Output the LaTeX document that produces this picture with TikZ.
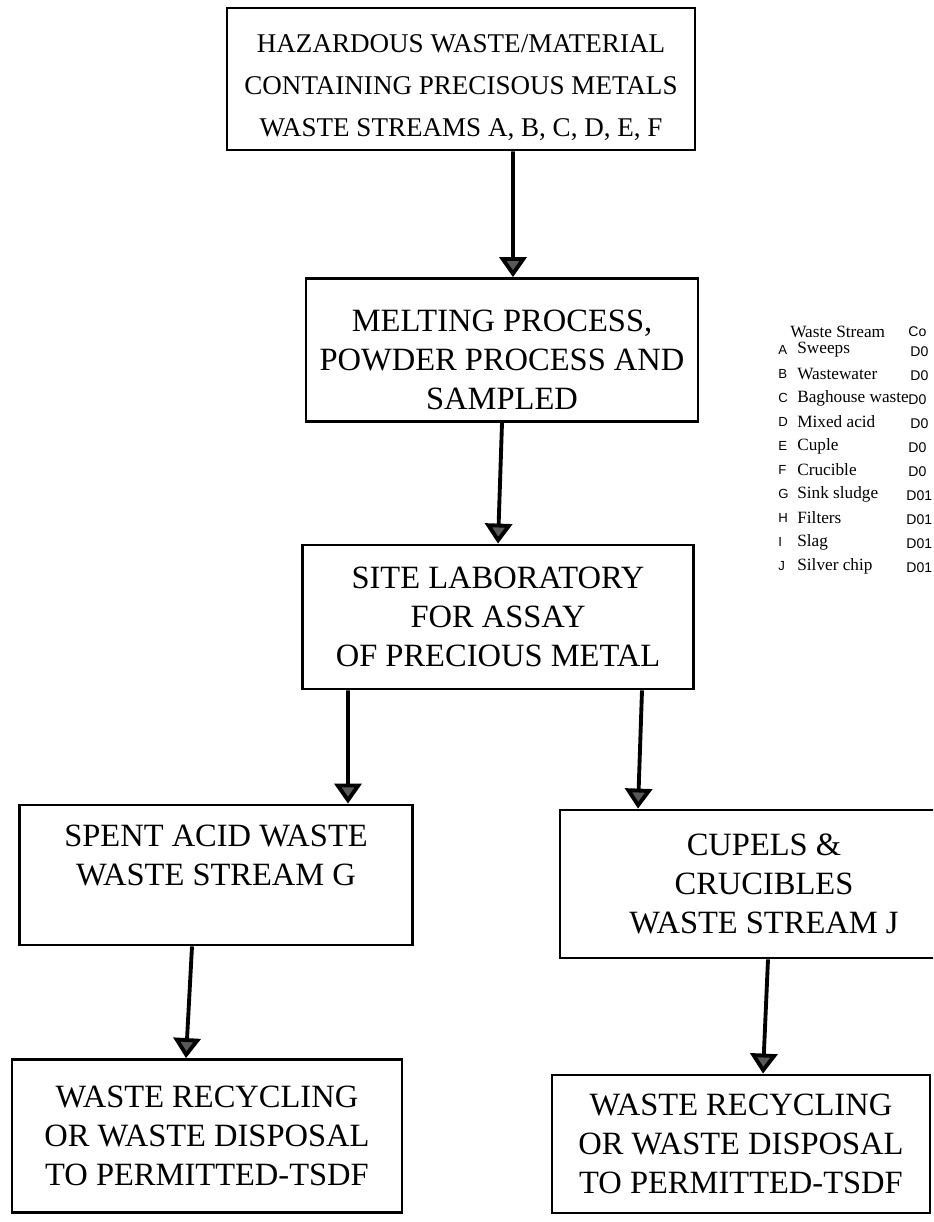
\documentclass[tikz,border=0pt]{standalone}
\usepackage{fontspec}
\setmainfont{Liberation Serif}
\setsansfont{Liberation Sans}
\usetikzlibrary{arrows.meta}
\tikzset{
  wbox/.style={draw=black, line width=1.6pt, align=center, inner sep=0pt,
               font=\fontsize{18.5}{22.2}\selectfont},
  wflow/.style={-{Triangle[width=5.4mm,length=4mm,fill=black!65]}, line width=2.2pt},
  wkey/.style={anchor=west, inner sep=0pt, font=\sffamily\fontsize{7.5}{9}\selectfont},
  wname/.style={anchor=west, inner sep=0pt, font=\fontsize{9.8}{11}\selectfont},
  wcode/.style={anchor=west, inner sep=0pt, font=\sffamily\fontsize{8}{9}\selectfont},
}

\begin{document}
\begin{tikzpicture}[x=0.2mm,y=-0.2mm]
  \useasboundingbox (0,0) rectangle (933,1222);
  \clip (0,0) rectangle (933,1222);

  % --- main flow ---
  \node[wbox, minimum width=9.36cm, minimum height=2.84cm,
        font=\fontsize{15.4}{24}\selectfont] (haz) at (461,79)
    {\mbox{}\\[-4.3pt]HAZARDOUS WASTE/MATERIAL\\CONTAINING PRECISOUS METALS\\WASTE STREAMS A, B, C, D, E, F};
  \node[wbox, minimum width=7.84cm, minimum height=2.86cm] (melt) at (502,350)
    {\mbox{}\\[1.4pt]MELTING PROCESS,\\POWDER PROCESS AND\\SAMPLED};
  \node[wbox, minimum width=7.82cm, minimum height=2.88cm] (lab) at (498,617)
    {SITE LABORATORY\\FOR ASSAY\\OF PRECIOUS METAL};

  % --- two branches ---
  \node[wbox, minimum width=7.86cm, minimum height=2.8cm] (spent) at (216,875)
    {SPENT ACID WASTE\\WASTE STREAM G\\~};
  \node[wbox, minimum width=8.16cm, minimum height=2.96cm] (cupel) at (764,884)
    {CUPELS \&\\CRUCIBLES\\WASTE STREAM J};
  \node[wbox, minimum width=7.8cm, minimum height=3.06cm] (recL) at (207,1136)
    {WASTE RECYCLING\\OR WASTE DISPOSAL\\TO PERMITTED-TSDF};
  \node[wbox, minimum width=7.56cm, minimum height=2.76cm] (recR) at (741,1144)
    {WASTE RECYCLING\\OR WASTE DISPOSAL\\TO PERMITTED-TSDF};

  \draw[wflow] ([xshift=1.04cm]haz.south) -- ([xshift=0.22cm]melt.north);
  \draw[wflow] (melt.south) -- (lab.north);
  \draw[wflow] ([xshift=-3cm]lab.south) -- ([xshift=2.64cm]spent.north);
  \draw[wflow] ([xshift=2.88cm]lab.south) -- ([xshift=-2.52cm]cupel.north);
  \draw[wflow] ([xshift=-0.48cm]spent.south) -- ([xshift=-0.42cm]recL.north);
  \draw[wflow] ([xshift=0.08cm]cupel.south) -- ([xshift=0.44cm]recR.north);

  % --- legend ---
  \node[wname] (hdr) at (790,332) {Waste Stream};
  \node[wcode] (hdrc) at (908,332) {Co};
  \node[wkey] (kA) at (778,350) {A}; \node[wname] (nA) at (797,350) {Sweeps};         \node[wcode] (cA) at (910,352) {D0};
  \node[wkey] (kB) at (778,374) {B}; \node[wname] (nB) at (797,374) {Wastewater};     \node[wcode] (cB) at (910,376) {D0};
  \node[wkey] (kC) at (778,398) {C}; \node[wname] (nC) at (797,398) {Baghouse waste}; \node[wcode] (cC) at (908,400) {D0};
  \node[wkey] (kD) at (778,422) {D}; \node[wname] (nD) at (797,422) {Mixed acid};     \node[wcode] (cD) at (910,424) {D0};
  \node[wkey] (kE) at (778,446) {E}; \node[wname] (nE) at (797,446) {Cuple};          \node[wcode] (cE) at (908,448) {D0};
  \node[wkey] (kF) at (778,470) {F}; \node[wname] (nF) at (797,470) {Crucible};       \node[wcode] (cF) at (908,472) {D0};
  \node[wkey] (kG) at (778,494) {G}; \node[wname] (nG) at (797,494) {Sink sludge};    \node[wcode] (cG) at (906,496) {D01};
  \node[wkey] (kH) at (778,518) {H}; \node[wname] (nH) at (797,518) {Filters};        \node[wcode] (cH) at (906,520) {D01};
  \node[wkey] (kI) at (778,542) {I}; \node[wname] (nI) at (797,542) {Slag};           \node[wcode] (cI) at (906,544) {D01};
  \node[wkey] (kJ) at (778,566) {J}; \node[wname] (nJ) at (797,566) {Silver chip};    \node[wcode] (cJ) at (906,568) {D01};

\end{tikzpicture}
\end{document}
